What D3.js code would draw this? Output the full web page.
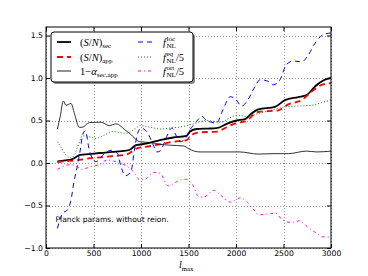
<!DOCTYPE html>
<html>
<head>
<meta charset="utf-8">
<script src="https://cdn.jsdelivr.net/npm/d3@7"></script>
<style>
  body { margin: 0; background: #fff; }
  #chart { width: 368px; height: 276px; }
</style>
</head>
<body>
<div id="chart"></div>
<script>
// (S/N)_sec
const lSec = [120, 200, 280, 330, 360, 450, 526, 600, 702, 800, 877, 910, 947, 1053, 1200, 1340, 1480, 1516, 1586, 1700, 1796, 1902, 2007, 2095, 2160, 2235, 2410, 2516, 2656, 2744, 2832, 2937, 3000];
const snSec = [0.02, 0.03, 0.047, 0.08, 0.095, 0.105, 0.114, 0.12, 0.13, 0.14, 0.153, 0.18, 0.21, 0.227, 0.27, 0.30, 0.32, 0.37, 0.40, 0.405, 0.41, 0.46, 0.50, 0.515, 0.58, 0.63, 0.66, 0.74, 0.775, 0.80, 0.90, 0.98, 1.0];
// (S/N)_app
const lApp = [120, 200, 300, 400, 500, 600, 700, 850, 950, 1050, 1200, 1340, 1480, 1530, 1620, 1800, 1900, 2000, 2095, 2235, 2445, 2550, 2691, 2797, 2902, 3000];
const snApp = [0.01, 0.02, 0.03, 0.045, 0.06, 0.07, 0.08, 0.10, 0.17, 0.19, 0.22, 0.25, 0.27, 0.33, 0.36, 0.37, 0.42, 0.47, 0.49, 0.60, 0.62, 0.69, 0.74, 0.84, 0.92, 0.94];
// 1 - alpha_sec,app
const lAlpha = [120, 150, 182, 210, 263, 300, 350, 380, 456, 579, 666, 737, 842, 900, 965, 1000, 1100, 1200, 1300, 1450, 1500, 1560, 1621, 1800, 2042, 2232, 2400, 2550, 2744, 2850, 3000];
const alpha = [0.40, 0.55, 0.73, 0.68, 0.70, 0.58, 0.42, 0.42, 0.475, 0.48, 0.44, 0.46, 0.38, 0.33, 0.26, 0.25, 0.24, 0.22, 0.21, 0.20, 0.17, 0.14, 0.13, 0.13, 0.13, 0.105, 0.11, 0.11, 0.14, 0.13, 0.14];
// f_NL^loc
const lLoc = [120, 175, 228, 260, 298, 333, 360, 386, 414, 456, 526, 596, 684, 754, 789, 835, 895, 930, 965, 1000, 1060, 1130, 1165, 1200, 1270, 1323, 1376, 1410, 1463, 1516, 1586, 1639, 1691, 1796, 1849, 1900, 1937, 1989, 2060, 2112, 2200, 2253, 2340, 2393, 2463, 2533, 2603, 2691, 2761, 2832, 2919, 3000];
const fLoc = [-0.77, -0.59, -0.55, -0.45, -0.2, -0.02, 0.15, 0.33, 0.38, 0.15, 0.015, 0.09, 0.15, 0.11, -0.04, -0.15, -0.1, 0.15, 0.35, 0.41, 0.37, 0.21, 0.13, 0.14, 0.31, 0.41, 0.31, 0.25, 0.28, 0.39, 0.49, 0.55, 0.50, 0.47, 0.59, 0.72, 0.78, 0.76, 0.67, 0.72, 0.90, 0.98, 0.96, 0.92, 0.98, 1.16, 1.20, 1.19, 1.27, 1.41, 1.51, 1.53];
// f_NL^eq / 5
const lEq = [120, 160, 210, 263, 300, 333, 386, 450, 526, 600, 702, 842, 947, 990, 1100, 1200, 1300, 1445, 1550, 1691, 1832, 1972, 2042, 2095, 2300, 2516, 2650, 2797, 2900, 3000];
const fEq = [0.25, 0.18, 0.094, 0.06, 0.10, 0.19, 0.32, 0.31, 0.29, 0.32, 0.37, 0.35, 0.41, 0.44, 0.42, 0.40, 0.41, 0.43, 0.46, 0.50, 0.48, 0.55, 0.56, 0.55, 0.60, 0.66, 0.67, 0.68, 0.71, 0.74];
// f_NL^ort / 5
const lOrt = [120, 253, 323, 375, 428, 498, 568, 639, 709, 779, 849, 919, 989, 1060, 1130, 1200, 1288, 1376, 1453, 1540, 1611, 1663, 1768, 1839, 1944, 2049, 2119, 2189, 2242, 2330, 2418, 2488, 2576, 2663, 2751, 2839, 2926, 3000];
const fOrt = [-0.075, -0.02, -0.04, -0.075, -0.06, -0.035, -0.02, 0.035, 0.024, 0.0, -0.035, -0.10, -0.20, -0.18, -0.11, -0.12, -0.27, -0.22, -0.19, -0.25, -0.40, -0.40, -0.32, -0.38, -0.46, -0.41, -0.46, -0.55, -0.61, -0.60, -0.59, -0.67, -0.70, -0.68, -0.75, -0.82, -0.87, -0.87];

const xTicks = [0, 500, 1000, 1500, 2000, 2500, 3000];
const yTicks = [-1.0, -0.5, 0.0, 0.5, 1.0, 1.5];
const note = "Planck params. without reion.";

// label parts: 0 upright, 1 italic, 2 subscript, 3 superscript
const series = [
  {l: lSec,   v: snSec, color: "#000000", width: 1.8, dash: null,      opacity: 1,   label: [["(", 0], ["S", 1], ["/", 0], ["N", 1], [")", 0], ["sec", 2]]},
  {l: lApp,   v: snApp, color: "#ff0000", width: 1.8, dash: "6,4",     opacity: 1,   label: [["(", 0], ["S", 1], ["/", 0], ["N", 1], [")", 0], ["app", 2]]},
  {l: lAlpha, v: alpha, color: "#000000", width: 1,   dash: null,      opacity: 0.8, label: [["1\u2212", 0], ["\u03b1", 1], ["sec,app", 2]]},
  {l: lLoc,   v: fLoc,  color: "#0000ff", width: 1,   dash: "5,4",     opacity: 1,   label: [["f", 1], ["loc", 3], ["NL", 2]]},
  {l: lEq,    v: fEq,   color: "#008000", width: 1,   dash: "1,2",     opacity: 1,   label: [["f", 1], ["eq", 3], ["NL", 2], ["/5", 0]]},
  {l: lOrt,   v: fOrt,  color: "#ff00ff", width: 1,   dash: "3,3,1,3", opacity: 1,   label: [["f", 1], ["ort", 3], ["NL", 2], ["/5", 0]]}
];

class LimitChart {
  constructor(container){
    this.container = container;
    this.width = 368;
    this.height = 276;
    this.margin = {left: 46, right: 37, top: 27, bottom: 28};
  }
  init = () => {
    this.svg = d3.select(this.container)
                 .append("svg")
                 .attr("width", this.width)
                 .attr("height", this.height)
                 .style("background-color", "#ffffff");
    this.x = d3.scaleLinear()
               .domain([0, 3000])
               .range([this.margin.left, this.width - this.margin.right]);
    this.y = d3.scaleLinear()
               .domain([-1.0, 1.6])
               .range([this.height - this.margin.bottom, this.margin.top]);
    this.drawGrid();
    this.drawLines();
    this.drawAxes();
    this.drawLegend();
  }
  drawGrid = () => {
    const g = this.svg.append("g").attr("class", "grid");
    g.selectAll(".gx")
      .data(xTicks)
      .enter()
      .append("line")
        .attr("x1", d => Math.round(this.x(d)) + 0.5)
        .attr("x2", d => Math.round(this.x(d)) + 0.5)
        .attr("y1", this.y.range()[0])
        .attr("y2", this.y.range()[1])
        .attr("stroke", "#777")
        .attr("stroke-width", 0.8)
        .attr("stroke-dasharray", "1,2");
    g.selectAll(".gy")
      .data(yTicks)
      .enter()
      .append("line")
        .attr("y1", d => Math.round(this.y(d)) + 0.5)
        .attr("y2", d => Math.round(this.y(d)) + 0.5)
        .attr("x1", this.x.range()[0])
        .attr("x2", this.x.range()[1])
        .attr("stroke", "#777")
        .attr("stroke-width", 0.8)
        .attr("stroke-dasharray", "1,2");
  }
  drawLines = () => {
    this.svg.append("clipPath")
      .attr("id", "plot-clip")
      .append("rect")
        .attr("x", this.x.range()[0])
        .attr("y", this.y.range()[1])
        .attr("width", this.x.range()[1] - this.x.range()[0])
        .attr("height", this.y.range()[0] - this.y.range()[1]);
    const line = d3.line()
                   .x(d => this.x(d[0]))
                   .y(d => this.y(d[1]))
                   .curve(d3.curveMonotoneX);
    const g = this.svg.append("g").attr("clip-path", "url(#plot-clip)");
    series.forEach(s => {
      g.append("path")
        .datum(d3.zip(s.l, s.v))
        .attr("d", line)
        .attr("fill", "none")
        .attr("stroke", s.color)
        .attr("stroke-width", s.width)
        .attr("stroke-opacity", s.opacity)
        .attr("stroke-dasharray", s.dash);
    });
    this.svg.append("text")
      .attr("x", this.x(100))
      .attr("y", this.y(-0.5) + 16)
      .attr("font-family", "DejaVu Sans")
      .attr("font-size", "7.6px")
      .attr("fill", "#000")
      .text(note);
  }
  drawAxes = () => {
    const [x0, x1] = this.x.range();
    const [y0, y1] = this.y.range();
    const fmtY = d3.format(".1f");
    const bottom = this.svg.append("g")
      .attr("transform", `translate(0,${y0})`)
      .call(d3.axisBottom(this.x).tickValues(xTicks).tickSize(-4).tickPadding(3).tickFormat(d3.format("d")));
    const top = this.svg.append("g")
      .attr("transform", `translate(0,${y1})`)
      .call(d3.axisTop(this.x).tickValues(xTicks).tickSize(-4).tickFormat(""));
    const left = this.svg.append("g")
      .attr("transform", `translate(${x0},0)`)
      .call(d3.axisLeft(this.y).tickValues(yTicks).tickSize(-4).tickPadding(3).tickFormat(fmtY));
    const right = this.svg.append("g")
      .attr("transform", `translate(${x1},0)`)
      .call(d3.axisRight(this.y).tickValues(yTicks).tickSize(-4).tickFormat(""));
    [bottom, top, left, right].forEach(a => {
      a.select(".domain").remove();
      a.selectAll("text")
        .attr("font-family", "DejaVu Sans")
        .attr("font-size", "7.7px")
        .attr("fill", "#000");
      a.selectAll("line").attr("stroke", "#000");
    });
    this.svg.append("rect")
      .attr("x", x0)
      .attr("y", y1)
      .attr("width", x1 - x0)
      .attr("height", y0 - y1)
      .attr("fill", "none")
      .attr("stroke", "#000")
      .attr("stroke-width", 1);
    // x label: l_max
    this.mathLabel(this.svg, 179, 268, [["l", 1], ["max", 2]], 10);
  }
  // lay out math-ish label piece by piece, measuring each piece
  mathLabel = (g, x, y, parts, size = 10.5) => {
    const small = size * 0.68;
    let cursor = x;
    let supStart = null, supWidth = 0;
    parts.forEach(([str, kind]) => {
      const t = g.append("text")
        .attr("font-family", "Liberation Serif")
        .attr("fill", "#000")
        .text(str);
      if (kind === 1) t.attr("font-style", "italic");
      if (kind === 2) {
        const sx = supStart !== null ? supStart : cursor;
        t.attr("x", sx).attr("y", y + size * 0.28).attr("font-size", small + "px");
        const w = t.node().getComputedTextLength();
        cursor = Math.max(sx + w, supStart !== null ? supStart + supWidth : 0);
        supStart = null;
      } else if (kind === 3) {
        t.attr("x", cursor + 0.5).attr("y", y - size * 0.42).attr("font-size", small + "px");
        supStart = cursor + 0.5;
        supWidth = t.node().getComputedTextLength();
      } else {
        if (supStart !== null) { cursor = supStart + supWidth; supStart = null; }
        t.attr("x", cursor).attr("y", y).attr("font-size", size + "px");
        cursor += t.node().getComputedTextLength();
      }
    });
  }
  drawLegend = () => {
    const g = this.svg.append("g").attr("class", "legend");
    const lx = 51, ly = 32, lw = 142, lh = 50;
    g.append("rect")
      .attr("x", lx + 2).attr("y", ly + 2)
      .attr("width", lw).attr("height", lh)
      .attr("rx", 3)
      .attr("fill", "#000").attr("fill-opacity", 0.45);
    g.append("rect")
      .attr("x", lx).attr("y", ly)
      .attr("width", lw).attr("height", lh)
      .attr("rx", 3)
      .attr("fill", "#fff")
      .attr("stroke", "#000")
      .attr("stroke-width", 1);
    const rowY = [42, 57, 71];
    const colX = [57, 138];
    series.forEach((s, i) => {
      const cx = colX[Math.floor(i / 3)];
      const cy = rowY[i % 3];
      g.append("line")
        .attr("x1", cx).attr("x2", cx + 14)
        .attr("y1", cy).attr("y2", cy)
        .attr("stroke", s.color)
        .attr("stroke-width", i === 2 ? 1.6 : s.width)
        .attr("stroke-opacity", i === 2 ? 0.55 : 1)
        .attr("stroke-dasharray", s.dash);
      this.mathLabel(g, i < 3 ? cx + 23 : cx + 25, cy + 3.5, s.label);
    });
  }
}

const chart = new LimitChart(document.getElementById("chart"));
chart.init();
</script>
</body>
</html>
